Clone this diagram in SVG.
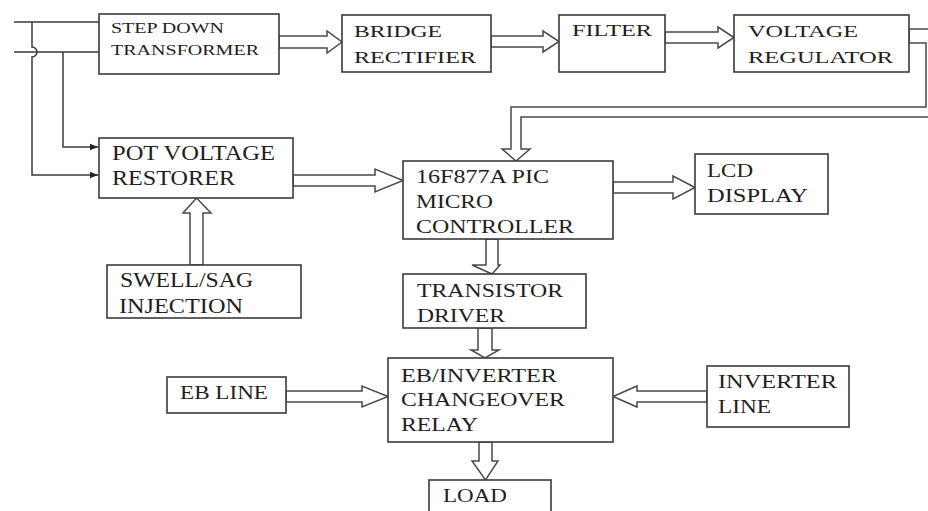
<svg xmlns="http://www.w3.org/2000/svg" width="928" height="511" viewBox="0 0 928 511">
  <style>
    .box { fill: #ffffff; stroke: #3a3a3a; stroke-width: 1.6; }
    .pipe { fill: #ffffff; stroke: #4a4a4a; stroke-width: 1.5; stroke-linejoin: miter; }
    .wire { fill: none; stroke: #3a3a3a; stroke-width: 1.5; }
    .lbl { font-family: "Liberation Serif", "Times New Roman", serif; fill: #1e1e1e; }
  </style>
  <defs>
    <marker id="tip" viewBox="0 0 10 10" refX="10" refY="5" markerWidth="8" markerHeight="8" markerUnits="userSpaceOnUse" orient="auto">
      <path d="M0,1 L10,5 L0,9 Z" fill="#222222"/>
    </marker>
  </defs>

  <rect width="928" height="511" fill="#ffffff"/>

  <!-- connectors -->
  <g id="connectors">
    <!-- mains input lines -->
    <path class="wire" d="M14,22 H99"/>
    <path class="wire" d="M14,52 H99"/>
    <path class="wire" d="M32,22 V47 A5,5 0 0 1 32,57 V175 H98" marker-end="url(#tip)"/>
    <path class="wire" d="M63,52 V147 H98" marker-end="url(#tip)"/>

    <!-- hollow block arrows -->
    <polygon class="pipe" points="279,36 327,36 327,31 342,42 327,53 327,48 279,48"/>
    <polygon class="pipe" points="491,36 543,36 543,31 559,41.5 543,52 543,47 491,47"/>
    <polygon class="pipe" points="665,32 718,32 718,27 734,37.5 718,48 718,43 665,43"/>
    <polygon class="pipe" points="909,29 940,29 940,117 521,117 521,149 530,149 516,161 502,149 511,149 511,107 926,107 926,43 909,43"/>
    <polygon class="pipe" points="293,175 375,175 375,169 403,180.5 375,192 375,186 293,186"/>
    <polygon class="pipe" points="190,265 190,213 183,213 196.5,198 211,213 203,213 203,265"/>
    <polygon class="pipe" points="613,182 673,182 673,176 695,187.5 673,199 673,193 613,193"/>
    <polygon class="pipe" points="486,239 486,265 472,265 492,274 500,265 498,265 498,239"/>
    <polygon class="pipe" points="478,328 478,350 471,350 485,358 499,350 492,350 492,328"/>
    <polygon class="pipe" points="286,391 362,391 362,386 388,396.5 362,407 362,402 286,402"/>
    <polygon class="pipe" points="707,391 637,391 637,386 613,396.5 637,407 637,402 707,402"/>
    <polygon class="pipe" points="479,442 479,461 472,461 485.5,480 498,461 492,461 492,442"/>
  </g>

  <!-- nodes -->
  <g id="step-down-transformer">
    <rect class="box" x="99" y="14" width="180" height="60"/>
    <text class="lbl" font-size="15" x="111" y="33" textLength="113" lengthAdjust="spacingAndGlyphs">STEP DOWN</text>
    <text class="lbl" font-size="15" x="111" y="55" textLength="148" lengthAdjust="spacingAndGlyphs">TRANSFORMER</text>
  </g>

  <g id="bridge-rectifier">
    <rect class="box" x="342" y="15" width="149" height="57"/>
    <text class="lbl" font-size="17.5" x="354" y="37" textLength="88" lengthAdjust="spacingAndGlyphs">BRIDGE</text>
    <text class="lbl" font-size="17.5" x="354" y="63" textLength="122" lengthAdjust="spacingAndGlyphs">RECTIFIER</text>
  </g>

  <g id="filter">
    <rect class="box" x="559" y="15" width="106" height="57"/>
    <text class="lbl" font-size="17.5" x="572" y="36" textLength="80" lengthAdjust="spacingAndGlyphs">FILTER</text>
  </g>

  <g id="voltage-regulator">
    <rect class="box" x="734" y="15" width="175" height="57"/>
    <text class="lbl" font-size="17.5" x="748" y="37" textLength="110" lengthAdjust="spacingAndGlyphs">VOLTAGE</text>
    <text class="lbl" font-size="17.5" x="748" y="63" textLength="145" lengthAdjust="spacingAndGlyphs">REGULATOR</text>
  </g>

  <g id="pot-voltage-restorer">
    <rect class="box" x="99" y="138" width="194" height="60"/>
    <text class="lbl" font-size="20" x="112" y="160" textLength="163" lengthAdjust="spacingAndGlyphs">POT VOLTAGE</text>
    <text class="lbl" font-size="20" x="112" y="185" textLength="123" lengthAdjust="spacingAndGlyphs">RESTORER</text>
  </g>

  <g id="swell-sag-injection">
    <rect class="box" x="107" y="265" width="194" height="53"/>
    <text class="lbl" font-size="20" x="120" y="287" textLength="133" lengthAdjust="spacingAndGlyphs">SWELL/SAG</text>
    <text class="lbl" font-size="20" x="119" y="313" textLength="124" lengthAdjust="spacingAndGlyphs">INJECTION</text>
  </g>

  <g id="microcontroller">
    <rect class="box" x="403" y="161" width="210" height="78"/>
    <text class="lbl" font-size="18.5" x="416" y="183" textLength="133" lengthAdjust="spacingAndGlyphs">16F877A PIC</text>
    <text class="lbl" font-size="18.5" x="416" y="208" textLength="77" lengthAdjust="spacingAndGlyphs">MICRO</text>
    <text class="lbl" font-size="18.5" x="416" y="233" textLength="158" lengthAdjust="spacingAndGlyphs">CONTROLLER</text>
  </g>

  <g id="lcd-display">
    <rect class="box" x="695" y="154" width="133" height="60"/>
    <text class="lbl" font-size="18.5" x="707" y="177" textLength="46" lengthAdjust="spacingAndGlyphs">LCD</text>
    <text class="lbl" font-size="18.5" x="707" y="202" textLength="101" lengthAdjust="spacingAndGlyphs">DISPLAY</text>
  </g>

  <g id="transistor-driver">
    <rect class="box" x="403" y="274" width="183" height="54"/>
    <text class="lbl" font-size="19" x="417" y="297" textLength="146" lengthAdjust="spacingAndGlyphs">TRANSISTOR</text>
    <text class="lbl" font-size="19" x="417" y="322" textLength="88" lengthAdjust="spacingAndGlyphs">DRIVER</text>
  </g>

  <g id="changeover-relay">
    <rect class="box" x="388" y="358" width="225" height="84"/>
    <text class="lbl" font-size="18.5" x="401" y="382" textLength="156" lengthAdjust="spacingAndGlyphs">EB/INVERTER</text>
    <text class="lbl" font-size="18.5" x="401" y="406" textLength="164" lengthAdjust="spacingAndGlyphs">CHANGEOVER</text>
    <text class="lbl" font-size="18.5" x="401" y="431" textLength="77" lengthAdjust="spacingAndGlyphs">RELAY</text>
  </g>

  <g id="eb-line">
    <rect class="box" x="167" y="377" width="119" height="36"/>
    <text class="lbl" font-size="19" x="180" y="399" textLength="88" lengthAdjust="spacingAndGlyphs">EB LINE</text>
  </g>

  <g id="inverter-line">
    <rect class="box" x="707" y="366" width="142" height="61"/>
    <text class="lbl" font-size="18.5" x="718" y="388" textLength="119" lengthAdjust="spacingAndGlyphs">INVERTER</text>
    <text class="lbl" font-size="18.5" x="718" y="413" textLength="53" lengthAdjust="spacingAndGlyphs">LINE</text>
  </g>

  <g id="load">
    <rect class="box" x="429" y="480" width="122" height="40"/>
    <text class="lbl" font-size="19" x="443" y="502" textLength="64" lengthAdjust="spacingAndGlyphs">LOAD</text>
  </g>
</svg>
